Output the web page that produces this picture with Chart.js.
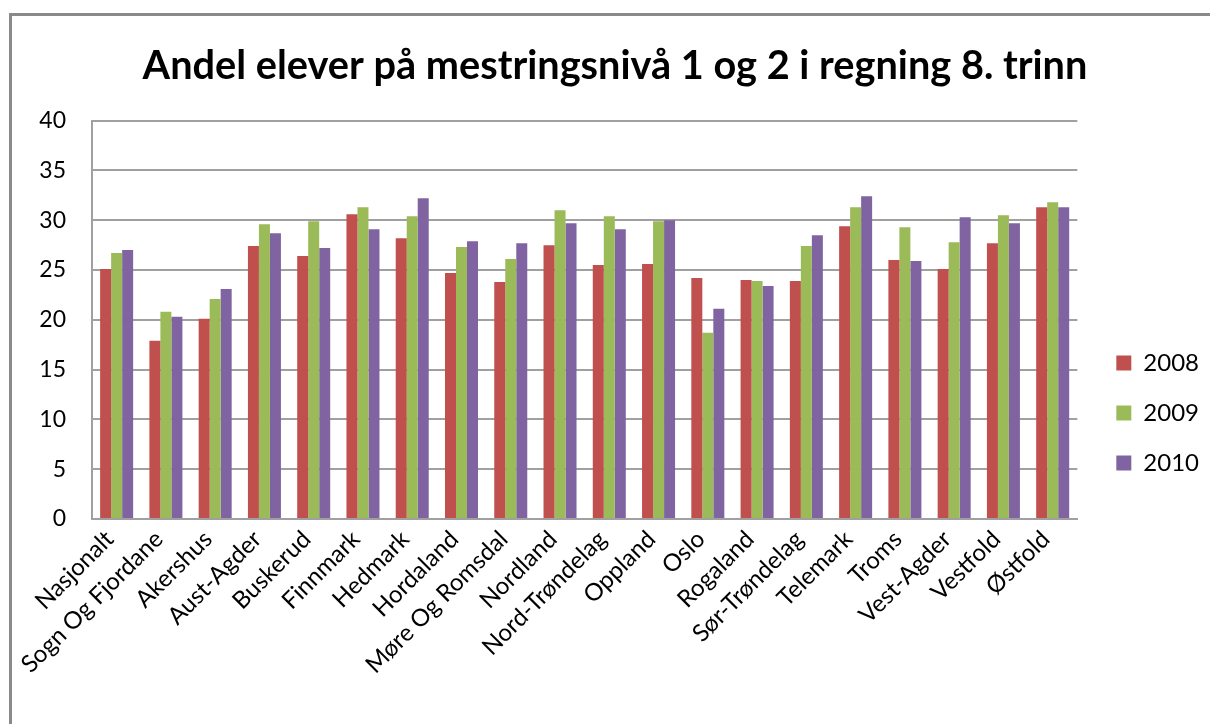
<!DOCTYPE html>
<html>
<head>
<meta charset="utf-8">
<script src="https://cdn.jsdelivr.net/npm/chart.js@4/dist/chart.umd.min.js"></script>
<style>
  html, body { margin: 0; padding: 0; background: #fff; overflow: hidden; }
  #wrap { position: relative; width: 1210px; height: 724px; }
  #frame { position: absolute; left: 9px; top: 13px; width: 1400px; height: 1000px; border: 3px solid #8a8a8a; box-sizing: border-box; pointer-events: none; }
  canvas { position: absolute; left: 0; top: 0; }
</style>
</head>
<body>
<div id="wrap">
  <canvas id="c" width="1210" height="724"></canvas>
  <div id="frame"></div>
</div>
<script>
const categories = ["Nasjonalt", "Sogn Og Fjordane", "Akershus", "Aust-Agder", "Buskerud", "Finnmark", "Hedmark", "Hordaland", "Møre Og Romsdal", "Nordland", "Nord-Trøndelag", "Oppland", "Oslo", "Rogaland", "Sør-Trøndelag", "Telemark", "Troms", "Vest-Agder", "Vestfold", "Østfold"];
const seriesNames = ["2008", "2009", "2010"];
const values2008 = [25.1, 17.9, 20.1, 27.4, 26.4, 30.6, 28.2, 24.7, 23.8, 27.5, 25.5, 25.6, 24.2, 24.0, 23.9, 29.4, 26.0, 25.1, 27.7, 31.3];
const values2009 = [26.7, 20.8, 22.1, 29.6, 29.9, 31.3, 30.4, 27.3, 26.1, 31.0, 30.4, 29.9, 18.7, 23.9, 27.4, 31.3, 29.3, 27.8, 30.5, 31.8];
const values2010 = [27.0, 20.3, 23.1, 28.7, 27.2, 29.1, 32.2, 27.9, 27.7, 29.7, 29.1, 30.0, 21.1, 23.4, 28.5, 32.4, 25.9, 30.3, 29.7, 31.3];
const yTicks = [0, 5, 10, 15, 20, 25, 30, 35, 40];
const titleText = "Andel elever på mestringsnivå 1 og 2 i regning 8. trinn";

const colors = ["#C0504D", "#9BBB59", "#8064A2"];
const FONT = "Lato, 'Open Sans', sans-serif";

const legendShift = {
  id: 'legendShift',
  afterUpdate(chart) {
    const lg = chart.legend;
    if (!lg) return;
    const dy = 36, dx = 13;
    lg.top += dy; lg.bottom += dy;
    lg.left += dx; lg.right += dx;
    lg.adjustHitBoxes();
  }
};

new Chart(document.getElementById('c'), {
  type: 'bar',
  data: {
    labels: categories,
    datasets: [values2008, values2009, values2010].map((v, i) => ({
      label: seriesNames[i],
      data: v,
      backgroundColor: colors[i],
      borderColor: colors[i],
      borderWidth: 0,
      categoryPercentage: 0.67,
      barPercentage: 1.0
    }))
  },
  options: {
    responsive: false,
    animation: false,
    devicePixelRatio: 1,
    layout: { padding: { left: 34, right: 14, top: 30, bottom: 0 } },
    plugins: {
      title: {
        display: true,
        text: titleText,
        color: '#000',
        font: { family: FONT, size: 39.7, weight: 'bold' },
        padding: { top: 12, bottom: 31 }
      },
      legend: {
        position: 'right',
        align: 'center',
        labels: {
          color: '#000',
          font: { family: FONT, size: 24 },
          boxWidth: 15,
          boxHeight: 15,
          padding: 26
        }
      },
      tooltip: { enabled: false }
    },
    scales: {
      x: {
        grid: { display: false, drawTicks: false },
        border: { display: true, color: '#a0a0a0', width: 2 },
        ticks: {
          color: '#000',
          font: { family: FONT, size: 24 },
          maxRotation: 45,
          minRotation: 45,
          autoSkip: false,
          padding: 6,
          labelOffset: -7
        },
        afterFit(s) { s.height = 205; }
      },
      y: {
        min: 0,
        max: 40,
        afterBuildTicks(s) { s.ticks = yTicks.map(v => ({ value: v })); },
        grid: { color: '#a0a0a0', lineWidth: 2, drawTicks: false },
        border: { display: true, color: '#a0a0a0', width: 2 },
        ticks: {
          color: '#000',
          font: { family: FONT, size: 23 },
          padding: 26
        },
        afterFit(s) { s.width = 58; }
      }
    }
  },
  plugins: [legendShift]
});
</script>
</body>
</html>
